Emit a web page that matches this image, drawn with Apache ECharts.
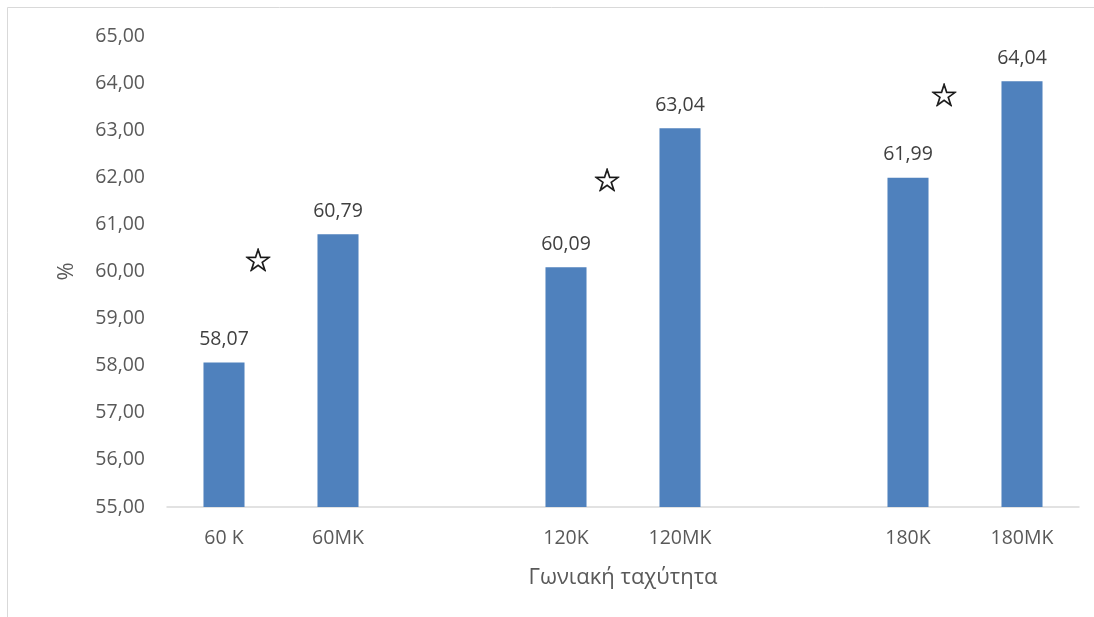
<!DOCTYPE html>
<html>
<head>
<meta charset="utf-8">
<script src="https://cdn.jsdelivr.net/npm/echarts@6/dist/echarts.min.js"></script>
<style>
  html, body { margin: 0; padding: 0; background: #fff; }
  #chart { width: 1094px; height: 617px; }
</style>
</head>
<body>
<div id="chart"></div>
<script>
// Categories (blank entries leave a gap between the speed groups)
const categories = ['60 K', '60MK', '', '120K', '120MK', '', '180K', '180MK'];
// Bar values in %
const values = [58.07, 60.79, null, 60.09, 63.04, null, 61.99, 64.04];
// Significance stars: level in % at each group's first category
const starLevels = [60.18, null, null, 61.88, null, null, 63.70, null];
// Y axis range
const yMin = 55, yMax = 65, yStep = 1;

const fmt = v => v.toFixed(2).replace('.', ',');
const FONT = '"Open Sans", "Noto Sans", sans-serif';
const starShift = [34, 0, 0, 41, 0, 0, 36, 0];

const chart = echarts.init(document.getElementById('chart'));
chart.setOption({
  animation: false,
  backgroundColor: '#ffffff',
  graphic: [{
    type: 'rect',
    shape: { x: 7.5, y: 7.5, width: 1200, height: 700 },
    style: { fill: 'none', stroke: '#d9d9d9', lineWidth: 1 },
    silent: true, z: -1
  }],
  grid: { left: 167, right: 15, top: 36, bottom: 110 },
  xAxis: {
    type: 'category',
    data: categories,
    name: 'Γωνιακή ταχύτητα',
    nameLocation: 'middle',
    nameGap: 60,
    nameTextStyle: { fontFamily: FONT, fontSize: 22, color: '#595959' },
    axisLine: { lineStyle: { color: '#d9d9d9', width: 1.5 } },
    axisTick: { show: false },
    axisLabel: { fontFamily: FONT, fontSize: 19.5, color: '#595959', margin: 21, interval: 0 }
  },
  yAxis: {
    type: 'value',
    min: yMin, max: yMax, interval: yStep,
    name: '%',
    nameLocation: 'middle',
    nameGap: 89,
    nameTextStyle: { fontFamily: FONT, fontSize: 22, color: '#595959' },
    axisLine: { show: false },
    axisTick: { show: false },
    splitLine: { show: false },
    axisLabel: { fontFamily: FONT, fontSize: 19.5, color: '#595959', margin: 22, formatter: v => fmt(v) }
  },
  series: [{
    type: 'bar',
    data: values,
    barWidth: '36%',
    itemStyle: { color: '#4f81bd' },
    label: {
      show: true, position: 'top', distance: 13,
      fontFamily: FONT, fontSize: 19.5, color: '#404040',
      formatter: p => fmt(p.value)
    }
  }, {
    type: 'scatter',
    data: starLevels.map((v, i) => v == null ? null : {
      value: v,
      label: { offset: [starShift[i], 0] }
    }),
    symbolSize: 1,
    itemStyle: { color: 'rgba(0,0,0,0)' },
    label: {
      show: true, position: 'inside',
      formatter: '☆', fontFamily: '"DejaVu Sans", sans-serif',
      fontSize: 32, color: '#000000',
      textBorderColor: '#000000', textBorderWidth: 0.8
    },
    z: 5
  }]
});
</script>
</body>
</html>
